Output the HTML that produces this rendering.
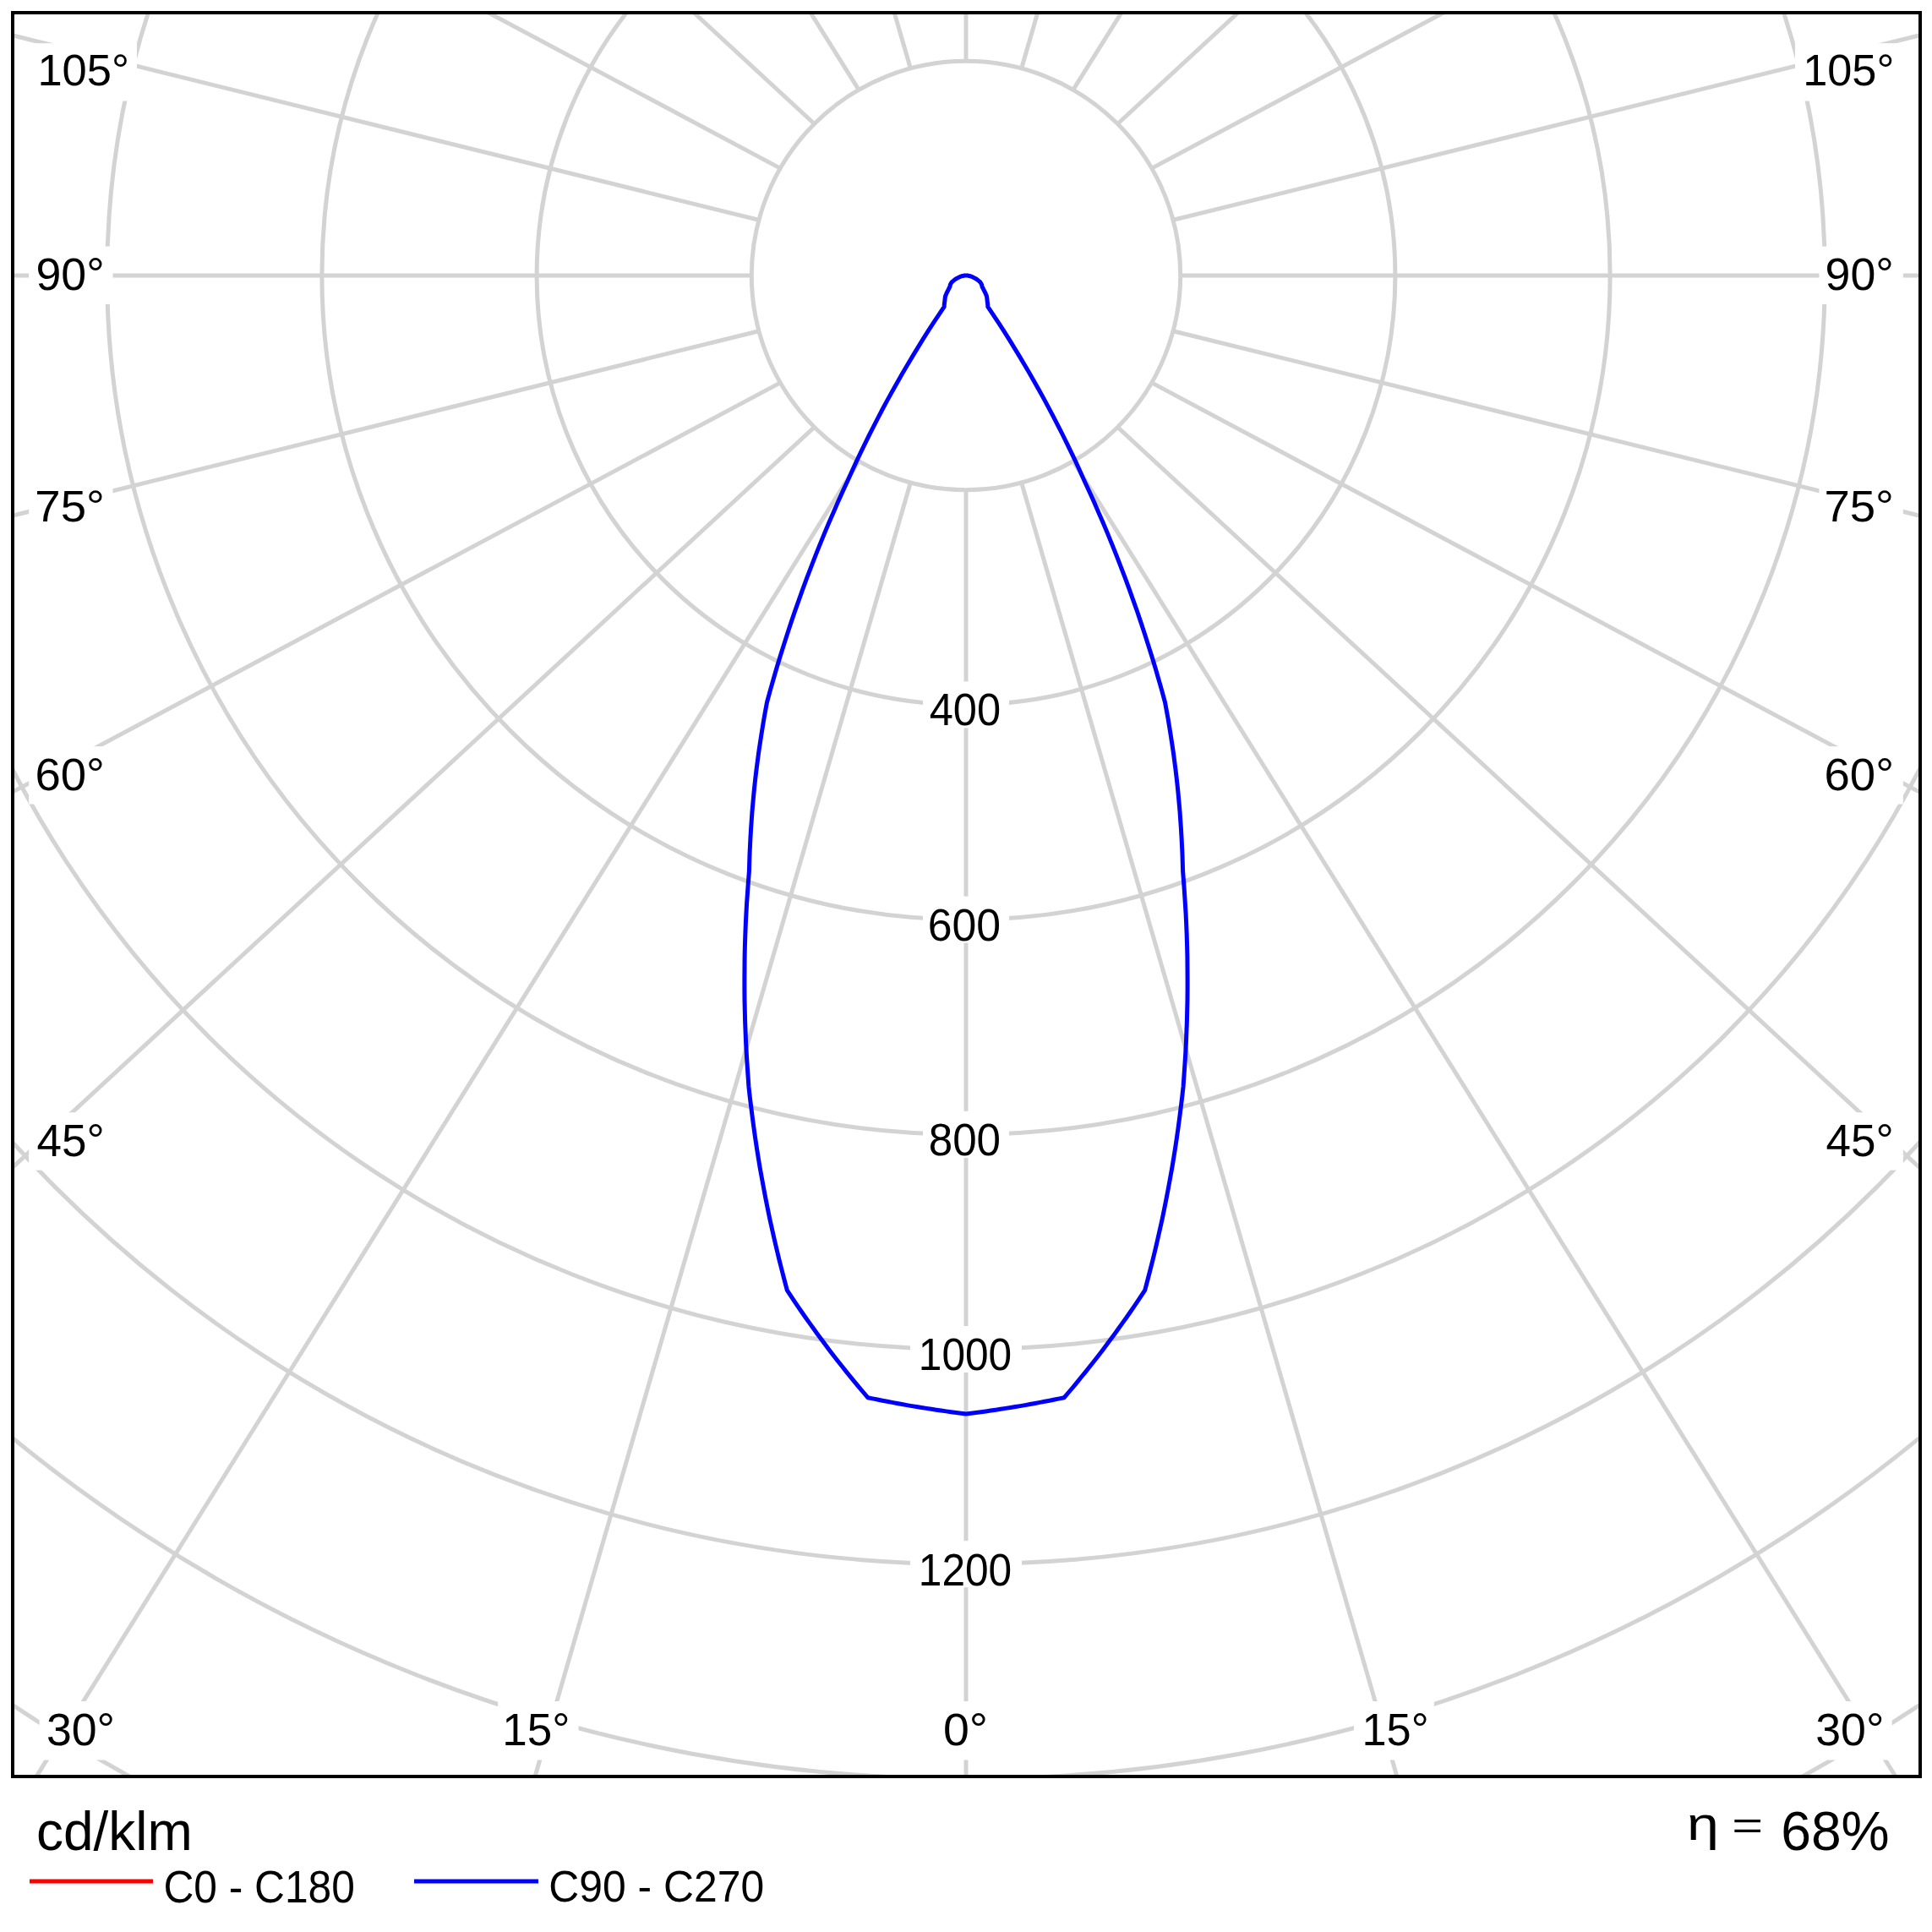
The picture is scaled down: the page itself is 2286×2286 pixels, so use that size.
<!DOCTYPE html><html><head><meta charset="utf-8"><style>html,body{margin:0;padding:0;background:#fff;width:2286px;height:2286px;overflow:hidden}svg{display:block}</style></head><body>
<svg width="2286" height="2286" viewBox="0 0 2286 2286" font-family="Liberation Sans, sans-serif">
<defs><clipPath id="fc"><rect x="17" y="17" width="2253" height="2083"/></clipPath></defs>
<rect width="2286" height="2286" fill="#fff"/>
<g clip-path="url(#fc)" fill="none" stroke="#d3d3d3" stroke-width="5">
<circle cx="1143" cy="326" r="253.7"/>
<circle cx="1143" cy="326" r="507.9"/>
<circle cx="1143" cy="326" r="762.1"/>
<circle cx="1143" cy="326" r="1016.3"/>
<circle cx="1143" cy="326" r="1270.5"/>
<circle cx="1143" cy="326" r="1524.7"/>
<circle cx="1143" cy="326" r="1778.9"/>
<circle cx="1143" cy="326" r="2033.1"/>
<line x1="1143" y1="579.8" x2="1143" y2="4579.8"/>
<line x1="1077.3" y1="571.2" x2="-37.5" y2="4412.7"/>
<line x1="1016.1" y1="545.8" x2="-1104.6" y2="3937.4"/>
<line x1="963.5" y1="505.5" x2="-1975.3" y2="3219"/>
<line x1="923.2" y1="452.9" x2="-2606.5" y2="2334.6"/>
<line x1="897.8" y1="391.7" x2="-2985.1" y2="1352.4"/>
<line x1="889.2" y1="326" x2="-3110.8" y2="326"/>
<line x1="897.8" y1="260.3" x2="-2985.1" y2="-700.4"/>
<line x1="923.2" y1="199.1" x2="-2606.5" y2="-1682.6"/>
<line x1="963.5" y1="146.5" x2="-1975.3" y2="-2567"/>
<line x1="1016.1" y1="106.2" x2="-1104.6" y2="-3285.4"/>
<line x1="1077.3" y1="80.8" x2="-37.5" y2="-3760.7"/>
<line x1="1143" y1="72.2" x2="1143" y2="-3927.8"/>
<line x1="1208.7" y1="80.8" x2="2323.5" y2="-3760.7"/>
<line x1="1269.9" y1="106.2" x2="3390.6" y2="-3285.4"/>
<line x1="1322.5" y1="146.5" x2="4261.3" y2="-2567"/>
<line x1="1362.8" y1="199.1" x2="4892.5" y2="-1682.6"/>
<line x1="1388.2" y1="260.3" x2="5271.1" y2="-700.4"/>
<line x1="1396.8" y1="326" x2="5396.8" y2="326"/>
<line x1="1388.2" y1="391.7" x2="5271.1" y2="1352.4"/>
<line x1="1362.8" y1="452.9" x2="4892.5" y2="2334.6"/>
<line x1="1322.5" y1="505.5" x2="4261.3" y2="3219"/>
<line x1="1269.9" y1="545.8" x2="3390.6" y2="3937.4"/>
<line x1="1208.7" y1="571.2" x2="2323.5" y2="4412.7"/>
</g>
<g fill="#fff">
<rect x="34" y="51.2" width="128" height="68.3"/>
<rect x="34.2" y="291.6" width="99.3" height="68.3"/>
<rect x="34.2" y="565.9" width="99.3" height="68.3"/>
<rect x="34.2" y="883.2" width="99.3" height="68.3"/>
<rect x="34.2" y="1316.3" width="99.3" height="68.3"/>
<rect x="2124" y="51.2" width="128" height="68.3"/>
<rect x="2152.5" y="291.6" width="99.3" height="68.3"/>
<rect x="2152.5" y="565.9" width="99.3" height="68.3"/>
<rect x="2152.5" y="883.2" width="99.3" height="68.3"/>
<rect x="2152.5" y="1316.3" width="99.3" height="68.3"/>
<rect x="46.6" y="2013" width="95.3" height="69.5"/>
<rect x="589.2" y="2013" width="95.3" height="69.5"/>
<rect x="1109" y="2013" width="70" height="69.5"/>
<rect x="1602" y="2013" width="94.8" height="69.5"/>
<rect x="2143.4" y="2013" width="95.3" height="69.5"/>
<rect x="1092" y="806.4" width="102" height="55"/>
<rect x="1092" y="1060.6" width="102" height="55"/>
<rect x="1092" y="1314.8" width="102" height="55"/>
<rect x="1077" y="1569" width="132" height="55"/>
<rect x="1077" y="1823.2" width="132" height="55"/>
</g>
<path d="M1143 326 L1142.8 326 L1142.7 326 L1142.5 326 L1142.4 326 L1142.2 326 L1142.1 326 L1141.9 326 L1141.8 326 L1141.6 326.1 L1141.5 326.1 L1141.3 326.1 L1141.2 326.1 L1141 326.1 L1140.9 326.1 L1140.7 326.1 L1140.6 326.2 L1140.4 326.2 L1140.3 326.2 L1140.1 326.2 L1140 326.3 L1139.8 326.3 L1139.7 326.3 L1139.5 326.4 L1139.3 326.4 L1139.2 326.4 L1139 326.4 L1138.9 326.5 L1138.7 326.5 L1138.6 326.6 L1138.4 326.6 L1138.2 326.6 L1138.1 326.7 L1138 326.7 L1137.8 326.8 L1137.6 326.8 L1137.5 326.9 L1137.3 326.9 L1137.2 327 L1137 327 L1136.9 327.1 L1136.7 327.1 L1136.6 327.2 L1136.4 327.2 L1136.3 327.3 L1136.2 327.4 L1136 327.4 L1135.9 327.5 L1135.7 327.6 L1135.6 327.6 L1135.4 327.7 L1135.3 327.7 L1135.2 327.8 L1135 327.9 L1134.9 327.9 L1134.7 328 L1134.6 328.1 L1134.5 328.2 L1134.3 328.2 L1134.2 328.3 L1134 328.4 L1133.8 328.5 L1133.6 328.6 L1133.4 328.7 L1133.2 328.8 L1133 328.9 L1132.7 329 L1132.5 329.2 L1132.3 329.3 L1132.1 329.4 L1131.9 329.5 L1131.7 329.6 L1131.4 329.8 L1131.2 329.9 L1131 330 L1130.8 330.1 L1130.6 330.3 L1130.4 330.4 L1130.2 330.5 L1130 330.7 L1129.8 330.8 L1129.6 330.9 L1129.4 331.1 L1129.2 331.2 L1129 331.4 L1128.8 331.5 L1128.7 331.6 L1128.5 331.8 L1128.3 331.9 L1128.1 332.1 L1127.9 332.2 L1127.8 332.4 L1127.6 332.6 L1127.4 332.7 L1127.2 332.9 L1127.1 333 L1126.9 333.2 L1126.7 333.3 L1126.5 333.5 L1126.4 333.7 L1126.2 333.8 L1126.1 334 L1126 334.1 L1125.9 334.2 L1125.8 334.4 L1125.7 334.5 L1125.6 334.7 L1125.5 334.8 L1125.5 334.9 L1125.4 335.1 L1125.3 335.2 L1125.2 335.4 L1125.1 335.5 L1125 335.7 L1124.9 335.8 L1124.8 336 L1124.8 336.1 L1124.7 336.3 L1124.6 336.4 L1124.5 336.6 L1124.4 336.7 L1124.4 336.9 L1124.4 337 L1124.3 337.1 L1124.3 337.2 L1124.3 337.4 L1124.2 337.5 L1124.2 337.6 L1124.2 337.8 L1124.2 337.9 L1124.1 338 L1124.1 338.1 L1124.1 338.3 L1124.1 338.4 L1124 338.6 L1124 338.7 L1124 338.8 L1124 338.9 L1124 339.1 L1123.9 339.2 L1123.9 339.4 L1123.8 339.6 L1123.7 339.8 L1123.5 340 L1123.4 340.2 L1123.3 340.5 L1123.1 340.7 L1123 340.9 L1122.9 341.2 L1122.8 341.4 L1122.6 341.6 L1122.5 341.9 L1122.4 342.1 L1122.3 342.3 L1122.2 342.6 L1122.1 342.8 L1121.9 343.1 L1121.8 343.3 L1121.7 343.5 L1121.6 343.8 L1121.5 344 L1121.3 344.3 L1121.2 344.6 L1121 344.9 L1120.9 345.2 L1120.7 345.6 L1120.5 345.9 L1120.4 346.2 L1120.2 346.5 L1120.1 346.8 L1119.9 347.1 L1119.8 347.4 L1119.7 347.8 L1119.5 348.1 L1119.4 348.4 L1119.2 348.8 L1119.1 349.1 L1119 349.4 L1118.8 349.7 L1118.7 350.1 L1118.6 350.4 L1118.5 350.7 L1118.5 350.9 L1118.4 351.2 L1118.4 351.5 L1118.3 351.8 L1118.3 352 L1118.2 352.3 L1118.2 352.6 L1118.2 352.9 L1118.1 353.1 L1118.1 353.4 L1118.1 353.7 L1118 354 L1118 354.2 L1118 354.5 L1118 354.8 L1117.9 355.1 L1117.9 355.4 L1117.9 355.7 L1117.9 355.9 L1117.8 356.3 L1117.8 356.6 L1117.7 357 L1117.7 357.3 L1117.6 357.6 L1117.6 358 L1117.5 358.3 L1117.5 358.7 L1117.4 359 L1117.4 359.4 L1117.4 359.7 L1117.3 360.1 L1117.3 360.4 L1117.3 360.8 L1117.2 361.1 L1117.2 361.5 L1117.2 361.8 L1117.2 362.2 L1117.2 362.6 L1117.2 362.9 L1110.7 372.6 L1104.2 382.4 L1097.9 392.2 L1091.6 402.1 L1085.5 412.1 L1079.4 422.1 L1073.4 432.2 L1067.5 442.3 L1061.7 452.4 L1055.9 462.7 L1050.3 472.9 L1044.7 483.3 L1039.3 493.6 L1033.9 504.1 L1028.6 514.5 L1023.4 525.1 L1018.3 535.6 L1013.2 546.3 L1008.3 557 L1003.5 567.7 L997.6 580.4 L991.9 593.1 L986.3 605.9 L980.7 618.7 L975.3 631.6 L970 644.6 L964.8 657.6 L959.8 670.6 L954.8 683.7 L949.9 696.9 L945.2 710.1 L940.5 723.3 L936 736.6 L931.6 750 L927.3 763.4 L923.1 776.8 L919 790.3 L915.1 803.8 L911.2 817.4 L907.5 831 L905.7 840.8 L903.9 850.6 L902.3 860.4 L900.7 870.3 L899.2 880.2 L897.7 890.1 L896.4 900 L895.1 910 L893.9 919.9 L892.8 929.9 L891.8 940 L890.9 950 L890 960 L889.3 970.1 L888.6 980.2 L888 990.3 L887.5 1000.5 L887 1010.6 L886.7 1020.8 L886.4 1031 L885.4 1043.5 L884.5 1056.1 L883.6 1068.7 L882.9 1081.3 L882.3 1093.9 L881.8 1106.6 L881.4 1119.2 L881.1 1131.9 L881 1144.6 L880.9 1157.4 L880.9 1170.1 L881 1182.9 L881.3 1195.6 L881.6 1208.4 L882.1 1221.2 L882.6 1234 L883.3 1246.8 L884.1 1259.7 L885 1272.5 L885.9 1285.4 L887.2 1297.4 L888.7 1309.5 L890.2 1321.5 L891.8 1333.5 L893.5 1345.6 L895.3 1357.7 L897.2 1369.7 L899.2 1381.8 L901.4 1393.9 L903.6 1405.9 L905.9 1418 L908.3 1430.1 L910.8 1442.2 L913.5 1454.2 L916.2 1466.3 L919 1478.3 L921.9 1490.4 L925 1502.5 L928.1 1514.5 L931.3 1526.6 L935.6 1533.1 L939.9 1539.6 L944.3 1546.1 L948.7 1552.5 L953.2 1559 L957.8 1565.4 L962.4 1571.8 L967 1578.2 L971.7 1584.6 L976.5 1591 L981.3 1597.4 L986.1 1603.7 L991 1610 L996 1616.3 L1001 1622.6 L1006.1 1628.8 L1011.2 1635.1 L1016.4 1641.3 L1021.6 1647.5 L1026.8 1653.7 L1032.6 1654.9 L1038.3 1656 L1044.1 1657.2 L1049.8 1658.3 L1055.6 1659.4 L1061.4 1660.5 L1067.2 1661.5 L1073 1662.6 L1078.8 1663.6 L1084.6 1664.5 L1090.4 1665.5 L1096.2 1666.4 L1102 1667.3 L1107.8 1668.2 L1113.7 1669 L1119.5 1669.9 L1125.4 1670.7 L1131.3 1671.4 L1137.1 1672.2 L1143 1672.9 L1148.9 1672.2 L1154.7 1671.4 L1160.6 1670.7 L1166.5 1669.9 L1172.3 1669 L1178.2 1668.2 L1184 1667.3 L1189.8 1666.4 L1195.6 1665.5 L1201.4 1664.5 L1207.2 1663.6 L1213 1662.6 L1218.8 1661.5 L1224.6 1660.5 L1230.4 1659.4 L1236.2 1658.3 L1241.9 1657.2 L1247.7 1656 L1253.4 1654.9 L1259.2 1653.7 L1264.4 1647.5 L1269.7 1641.3 L1274.8 1635.1 L1279.9 1628.8 L1285 1622.6 L1290 1616.3 L1295 1610 L1299.9 1603.7 L1304.7 1597.4 L1309.5 1591 L1314.3 1584.6 L1319 1578.2 L1323.6 1571.8 L1328.2 1565.4 L1332.8 1559 L1337.3 1552.5 L1341.7 1546.1 L1346.1 1539.6 L1350.4 1533.1 L1354.7 1526.6 L1357.9 1514.5 L1361 1502.5 L1364.1 1490.4 L1367 1478.3 L1369.8 1466.3 L1372.5 1454.2 L1375.2 1442.2 L1377.7 1430.1 L1380.1 1418 L1382.4 1405.9 L1384.6 1393.9 L1386.8 1381.8 L1388.8 1369.7 L1390.7 1357.7 L1392.5 1345.6 L1394.2 1333.5 L1395.8 1321.5 L1397.3 1309.5 L1398.8 1297.4 L1400.1 1285.4 L1401 1272.5 L1401.9 1259.7 L1402.7 1246.8 L1403.4 1234 L1403.9 1221.2 L1404.4 1208.4 L1404.7 1195.6 L1405 1182.9 L1405.1 1170.1 L1405.1 1157.4 L1405 1144.6 L1404.9 1131.9 L1404.6 1119.2 L1404.2 1106.6 L1403.7 1093.9 L1403.1 1081.3 L1402.3 1068.7 L1401.5 1056.1 L1400.6 1043.5 L1399.6 1031 L1399.3 1020.8 L1399 1010.6 L1398.5 1000.5 L1398 990.3 L1397.4 980.2 L1396.7 970.1 L1396 960 L1395.1 950 L1394.2 940 L1393.2 929.9 L1392.1 919.9 L1390.9 910 L1389.6 900 L1388.3 890.1 L1386.8 880.2 L1385.3 870.3 L1383.7 860.4 L1382.1 850.6 L1380.3 840.8 L1378.5 831 L1374.8 817.4 L1370.9 803.8 L1367 790.3 L1362.9 776.8 L1358.7 763.4 L1354.4 750 L1350 736.6 L1345.5 723.3 L1340.8 710.1 L1336.1 696.9 L1331.2 683.7 L1326.2 670.6 L1321.2 657.6 L1316 644.6 L1310.7 631.6 L1305.3 618.7 L1299.7 605.9 L1294.1 593.1 L1288.4 580.4 L1282.5 567.7 L1277.7 557 L1272.8 546.3 L1267.7 535.6 L1262.6 525.1 L1257.4 514.5 L1252.1 504.1 L1246.7 493.6 L1241.3 483.3 L1235.7 472.9 L1230.1 462.7 L1224.3 452.4 L1218.5 442.3 L1212.6 432.2 L1206.6 422.1 L1200.5 412.1 L1194.4 402.1 L1188.1 392.2 L1181.8 382.4 L1175.3 372.6 L1168.8 362.9 L1168.8 362.6 L1168.8 362.2 L1168.8 361.8 L1168.8 361.5 L1168.8 361.1 L1168.7 360.8 L1168.7 360.4 L1168.7 360.1 L1168.6 359.7 L1168.6 359.4 L1168.6 359 L1168.5 358.7 L1168.5 358.3 L1168.4 358 L1168.4 357.6 L1168.3 357.3 L1168.3 357 L1168.2 356.6 L1168.2 356.3 L1168.1 355.9 L1168.1 355.7 L1168.1 355.4 L1168.1 355.1 L1168 354.8 L1168 354.5 L1168 354.2 L1168 354 L1167.9 353.7 L1167.9 353.4 L1167.9 353.1 L1167.8 352.9 L1167.8 352.6 L1167.8 352.3 L1167.7 352 L1167.7 351.8 L1167.6 351.5 L1167.6 351.2 L1167.5 350.9 L1167.5 350.7 L1167.4 350.4 L1167.3 350.1 L1167.2 349.7 L1167 349.4 L1166.9 349.1 L1166.8 348.8 L1166.6 348.4 L1166.5 348.1 L1166.3 347.8 L1166.2 347.4 L1166.1 347.1 L1165.9 346.8 L1165.8 346.5 L1165.6 346.2 L1165.5 345.9 L1165.3 345.6 L1165.1 345.2 L1165 344.9 L1164.8 344.6 L1164.7 344.3 L1164.5 344 L1164.4 343.8 L1164.3 343.5 L1164.2 343.3 L1164.1 343.1 L1163.9 342.8 L1163.8 342.6 L1163.7 342.3 L1163.6 342.1 L1163.5 341.9 L1163.4 341.6 L1163.2 341.4 L1163.1 341.2 L1163 340.9 L1162.9 340.7 L1162.7 340.5 L1162.6 340.2 L1162.5 340 L1162.3 339.8 L1162.2 339.6 L1162.1 339.4 L1162.1 339.2 L1162 339.1 L1162 338.9 L1162 338.8 L1162 338.7 L1162 338.6 L1161.9 338.4 L1161.9 338.3 L1161.9 338.1 L1161.9 338 L1161.8 337.9 L1161.8 337.8 L1161.8 337.6 L1161.8 337.5 L1161.7 337.4 L1161.7 337.2 L1161.7 337.1 L1161.6 337 L1161.6 336.9 L1161.6 336.7 L1161.5 336.6 L1161.4 336.4 L1161.3 336.3 L1161.2 336.1 L1161.2 336 L1161.1 335.8 L1161 335.7 L1160.9 335.5 L1160.8 335.4 L1160.7 335.2 L1160.6 335.1 L1160.5 334.9 L1160.5 334.8 L1160.4 334.7 L1160.3 334.5 L1160.2 334.4 L1160.1 334.2 L1160 334.1 L1159.9 334 L1159.8 333.8 L1159.6 333.7 L1159.5 333.5 L1159.3 333.3 L1159.1 333.2 L1158.9 333 L1158.8 332.9 L1158.6 332.7 L1158.4 332.6 L1158.2 332.4 L1158.1 332.2 L1157.9 332.1 L1157.7 331.9 L1157.5 331.8 L1157.3 331.6 L1157.2 331.5 L1157 331.4 L1156.8 331.2 L1156.6 331.1 L1156.4 330.9 L1156.2 330.8 L1156 330.7 L1155.8 330.5 L1155.6 330.4 L1155.4 330.3 L1155.2 330.1 L1155 330 L1154.8 329.9 L1154.6 329.8 L1154.3 329.6 L1154.1 329.5 L1153.9 329.4 L1153.7 329.3 L1153.5 329.2 L1153.3 329 L1153 328.9 L1152.8 328.8 L1152.6 328.7 L1152.4 328.6 L1152.2 328.5 L1152 328.4 L1151.8 328.3 L1151.7 328.2 L1151.5 328.2 L1151.4 328.1 L1151.3 328 L1151.1 327.9 L1151 327.9 L1150.8 327.8 L1150.7 327.7 L1150.6 327.7 L1150.4 327.6 L1150.3 327.6 L1150.1 327.5 L1150 327.4 L1149.8 327.4 L1149.7 327.3 L1149.6 327.2 L1149.4 327.2 L1149.3 327.1 L1149.1 327.1 L1149 327 L1148.8 327 L1148.7 326.9 L1148.5 326.9 L1148.4 326.8 L1148.2 326.8 L1148 326.7 L1147.9 326.7 L1147.8 326.6 L1147.6 326.6 L1147.4 326.6 L1147.3 326.5 L1147.1 326.5 L1147 326.4 L1146.8 326.4 L1146.7 326.4 L1146.5 326.4 L1146.3 326.3 L1146.2 326.3 L1146 326.3 L1145.9 326.2 L1145.7 326.2 L1145.6 326.2 L1145.4 326.2 L1145.3 326.1 L1145.1 326.1 L1145 326.1 L1144.8 326.1 L1144.7 326.1 L1144.5 326.1 L1144.4 326.1 L1144.2 326 L1144.1 326 L1143.9 326 L1143.8 326 L1143.6 326 L1143.5 326 L1143.3 326 L1143.2 326 L1143 326" fill="none" stroke="#0000ff" stroke-width="5" stroke-linejoin="round" stroke-linecap="round"/>
<g fill="#000">
<text x="44.4" y="101.2" font-size="52.5">105°</text>
<text x="42.5" y="343.1" font-size="53.7">90°</text>
<text x="41.3" y="616.9" font-size="51.6" textLength="82.5" lengthAdjust="spacingAndGlyphs">75°</text>
<text x="41.4" y="934.8" font-size="53" textLength="82.5" lengthAdjust="spacingAndGlyphs">60°</text>
<text x="43.5" y="1367.8" font-size="53">45°</text>
<text x="2133.2" y="101.2" font-size="52.3">105°</text>
<text x="2159.6" y="343.1" font-size="53.7">90°</text>
<text x="2158.4" y="616.9" font-size="51.6" textLength="82.5" lengthAdjust="spacingAndGlyphs">75°</text>
<text x="2158.5" y="934.8" font-size="53" textLength="82.5" lengthAdjust="spacingAndGlyphs">60°</text>
<text x="2160.6" y="1367.8" font-size="53">45°</text>
<text x="54.9" y="2065" font-size="53.7">30°</text>
<text x="594.3" y="2065.2" font-size="53">15°</text>
<text x="1115.9" y="2065" font-size="53.7" textLength="53.1" lengthAdjust="spacingAndGlyphs">0°</text>
<text x="1611.5" y="2065.2" font-size="53" textLength="79.1" lengthAdjust="spacingAndGlyphs">15°</text>
<text x="2148.2" y="2065" font-size="53.7">30°</text>
<text x="1099.7" y="858.2" font-size="53.3" textLength="84.4" lengthAdjust="spacingAndGlyphs">400</text>
<text x="1097.7" y="1112.5" font-size="53.3" textLength="86.4" lengthAdjust="spacingAndGlyphs">600</text>
<text x="1098.7" y="1366.7" font-size="53.3" textLength="85.4" lengthAdjust="spacingAndGlyphs">800</text>
<text x="1086.8" y="1621.3" font-size="52.8" textLength="110.4" lengthAdjust="spacingAndGlyphs">1000</text>
<text x="1086.8" y="1875.5" font-size="52.8" textLength="110.4" lengthAdjust="spacingAndGlyphs">1200</text>
<text x="42.9" y="2189" font-size="65" textLength="184.9" lengthAdjust="spacingAndGlyphs">cd/klm</text>
<text x="193.4" y="2250.7" font-size="52.8" textLength="226.5" lengthAdjust="spacingAndGlyphs">C0 - C180</text>
<text x="649.3" y="2250" font-size="52.6" textLength="254.8" lengthAdjust="spacingAndGlyphs">C90 - C270</text>
<text x="1996.1" y="2177.1" font-size="56.3" textLength="37.9" lengthAdjust="spacingAndGlyphs">η</text>
<text x="2049.2" y="2175.6" font-size="45.4" textLength="36.9" lengthAdjust="spacingAndGlyphs">=</text>
<text x="2107.2" y="2188.5" font-size="64.2">68%</text>
</g>
<rect x="15" y="15" width="2257" height="2087" fill="none" stroke="#000" stroke-width="4"/>
<rect x="35" y="2223.5" width="146" height="5" fill="#ff0000"/>
<rect x="490" y="2223.5" width="147" height="5" fill="#0000ff"/>
</svg></body></html>
